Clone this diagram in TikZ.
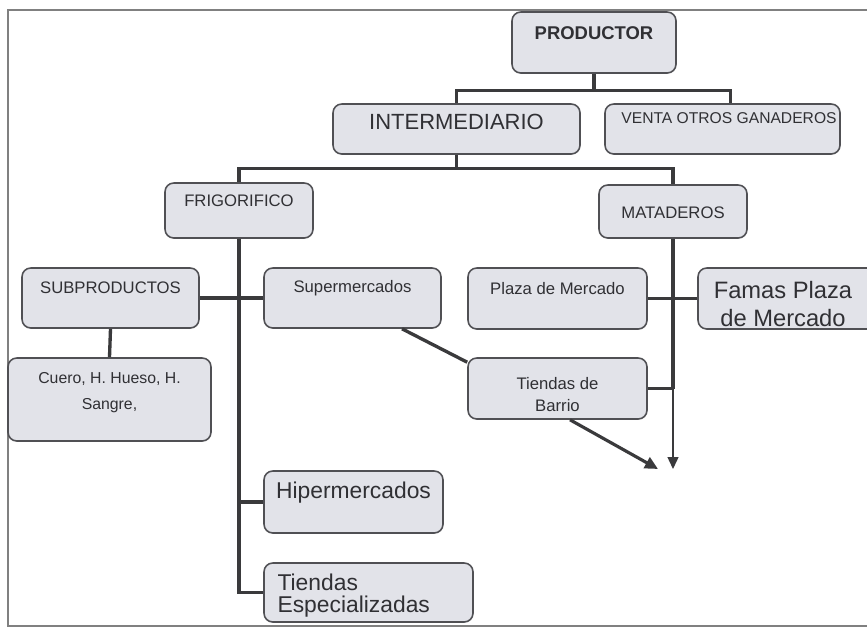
\documentclass[tikz,border=0pt]{standalone}
\usepackage{fontspec}
\setmainfont{Liberation Sans}
\usetikzlibrary{arrows.meta,positioning,calc}
\definecolor{cajagris}{RGB}{226,227,233}
\definecolor{bordegris}{RGB}{80,80,84}
\definecolor{lineagris}{RGB}{58,58,60}
\definecolor{textogris}{RGB}{48,48,52}

\begin{document}
\begin{tikzpicture}[
    caja/.style={draw=bordegris, line width=0.9pt, fill=cajagris, rounded corners=5pt, inner sep=0pt},
    rotulo/.style={text=textogris, inner sep=0pt, align=center},
    chico/.style={font=\fontsize{9.5}{15}\selectfont},
    grande/.style={font=\fontsize{13}{12.5}\selectfont},
    tronco/.style={draw=lineagris, line width=1.9pt},
    flecha/.style={draw=lineagris, -{Triangle[length=2.4mm,width=2.2mm]}}
  ]
    \useasboundingbox (0,0) rectangle (17.34,-12.58);
    % Page frame
    \draw[gray, line width=0.6pt] (17.34,-0.2) -- (0.16,-0.2) -- (0.16,-12.52) -- (17.34,-12.52);

    % Boxes
    \node[caja, minimum width=3.28cm, minimum height=1.22cm] (prod) at (11.88,-0.85) {};
    \node[caja, minimum width=4.94cm, minimum height=1.0cm] (inter) at (9.13,-2.58) {};
    \node[caja, minimum width=4.70cm, minimum height=1.0cm] (venta) at (14.45,-2.58) {};
    \node[caja, minimum width=2.96cm, minimum height=1.10cm] (frig) at (4.78,-4.21) {};
    \node[caja, minimum width=2.96cm, minimum height=1.06cm] (mata) at (13.46,-4.23) {};
    \node[caja, minimum width=3.54cm, minimum height=1.20cm] (subp) at (2.21,-5.96) {};
    \node[caja, minimum width=3.54cm, minimum height=1.20cm] (super) at (7.05,-5.96) {};
    \node[caja, minimum width=3.58cm, minimum height=1.22cm] (plaza) at (11.15,-5.97) {};
    \node[caja, minimum width=3.64cm, minimum height=1.22cm] (famas) at (15.78,-5.97) {};
    \node[caja, minimum width=4.06cm, minimum height=1.66cm] (cuero) at (2.19,-7.99) {};
    \node[caja, minimum width=3.58cm, minimum height=1.22cm] (barrio) at (11.15,-7.77) {};
    \node[caja, minimum width=3.58cm, minimum height=1.24cm] (hiper) at (7.07,-10.04) {};
    \node[caja, minimum width=4.18cm, minimum height=1.18cm] (espec) at (7.37,-11.85) {};

    % Labels
    \node[rotulo, font=\bfseries\fontsize{10.5}{12}\selectfont] (prodT) at ($(prod.north)+(0,-0.44)$) {PRODUCTOR};
    \node[rotulo, font=\fontsize{12.5}{14}\selectfont] (interT) at ($(inter.north)+(0,-0.38)$) {INTERMEDIARIO};
    \node[rotulo, font=\fontsize{8.9}{11}\selectfont] (ventaT) at ($(venta.north)+(0.13,-0.30)$) {VENTA OTROS GANADEROS};
    \node[rotulo, chico] (frigT) at ($(frig.north)+(0,-0.37)$) {FRIGORIFICO};
    \node[rotulo, chico] (mataT) at ($(mata.center)+(0,-0.02)$) {MATADEROS};
    \node[rotulo, chico] (subpT) at ($(subp.north)+(0,-0.42)$) {SUBPRODUCTOS};
    \node[rotulo, chico] (superT) at ($(super.north)+(0,-0.42)$) {Supermercados};
    \node[rotulo, chico] (plazaT) at ($(plaza.north)+(0,-0.42)$) {Plaza de Mercado};
    \node[rotulo, font=\fontsize{13.5}{15.5}\selectfont] (famasT) at ($(famas.center)+(-0.12,-0.11)$) {Famas Plaza\\de Mercado};
    \node[rotulo, font=\fontsize{9}{15}\selectfont] (cueroT) at ($(cuero.center)+(0,0.14)$) {Cuero, H. Hueso, H.\\Sangre,};
    \node[rotulo, font=\fontsize{9.5}{13}\selectfont] (barrioT) at ($(barrio.center)+(0,-0.12)$) {Tiendas de\\Barrio};
    \node[rotulo, grande] (hiperT) at ($(hiper.north)+(0,-0.44)$) {Hipermercados};
    \node[rotulo, grande, align=left, anchor=west] (especT) at ($(espec.west)+(0.28,-0.06)$) {Tiendas\\Especializadas};

    % Upper tree
    \draw[tronco] (prod.south) -- ++(0,-0.34);
    \draw[tronco] (inter.north) |- ($(prod.south)+(0,-0.34)$) -| ([xshift=0.16cm]venta.north);
    \draw[tronco] (inter.south) -- ++(0,-0.28);
    \draw[tronco] (frig.north) |- ($(inter.south)+(0,-0.28)$) -| (mata.north);

    % Frigorifico branch
    \draw[tronco] (frig.south) |- (espec.west);
    \draw[tronco] (subp.east) -- (super.west);
    \draw[tronco] (hiper.west) -- (frig.south |- hiper.west);
    \draw[tronco] (subp.south) -- (cuero.north);
    \draw[tronco] ([xshift=0.99cm]super.south) -- ([yshift=-0.1cm]barrio.north west);

    % Mataderos branch
    \coordinate (llegadaA) at (13.16,-9.38);
    \coordinate (llegadaB) at (mata.south |- llegadaA);
    \draw[tronco] (mata.south) -- (mata.south |- barrio.east);
    \draw[tronco] (plaza.east) -- (famas.west);
    \draw[tronco] (barrio.east) -- (mata.south |- barrio.east);
    \draw[flecha, line width=0.8pt] (mata.south |- barrio.east) -- (llegadaB);
    \draw[flecha, line width=1.8pt, -{Triangle[length=2.6mm,width=2.4mm]}] ([xshift=0.25cm]barrio.south) -- (llegadaA);
  \end{tikzpicture}
\end{document}
